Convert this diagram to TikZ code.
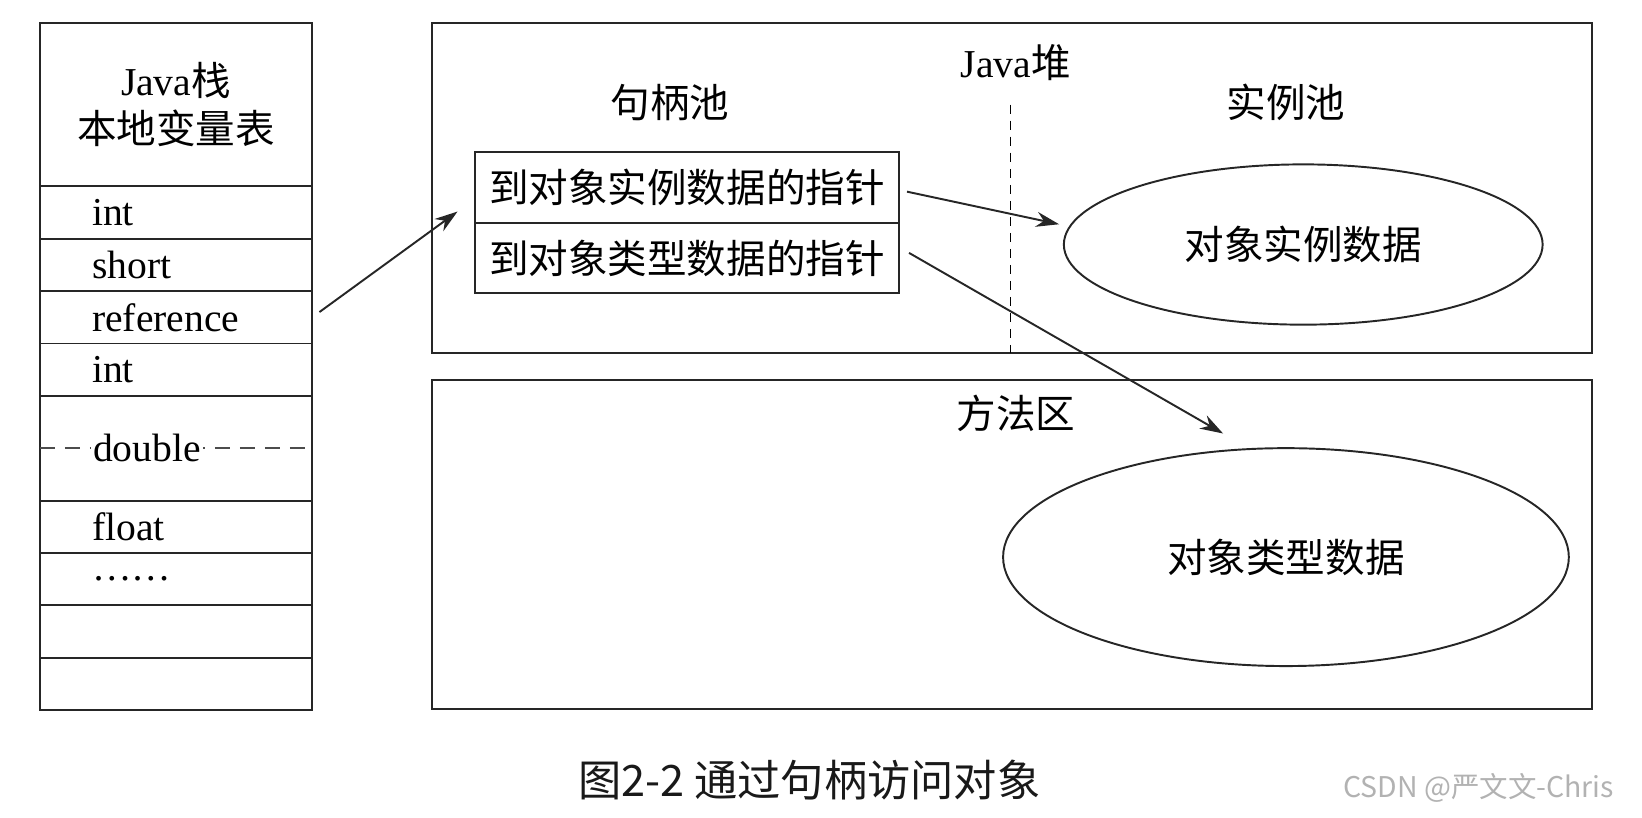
\documentclass[tikz,border=0pt]{standalone}
\usepackage{fontspec}
\setmainfont{Liberation Serif}
\newfontfamily\cjk{Noto Sans CJK SC}
\usetikzlibrary{arrows.meta,shapes.geometric}
\newcommand\bodysize{\fontsize{22.5pt}{27pt}\selectfont}
\newcommand\capsize{\fontsize{24.6pt}{29pt}\selectfont}
\newcommand\marksize{\fontsize{16.2pt}{19pt}\selectfont}

\tikzset{
  box/.style={draw=black!85,line width=1.1pt,inner sep=0pt,outer sep=0pt},
  cell/.style={box,minimum width=5.445cm,minimum height=1.047cm,text width=3.35cm,inner xsep=1.047cm,align=left},
  blob/.style={box,shape=ellipse},
  arr/.style={-{Stealth[length=0.46cm,width=0.3cm]},line width=1.1pt,draw=black!85},
}

\begin{document}
\begin{tikzpicture}[x=0.02094cm,y=-0.02094cm,font=\bodysize]
  \useasboundingbox (0,0) rectangle (1568,781);
  % Java stack
  \node[box,minimum width=5.445cm,minimum height=3.267cm,align=center] (stackhead) at (168,100) {Java{\cjk 栈}\\{\cjk 本地变量表}};
  \node[cell] (int1) at (168,203) {int};
  \node[cell] (short) at (168,253) {short};
  \node[cell] (ref) at (168,303) {reference};
  \node[cell] (int2) at (168,353) {int};
  \node[cell,minimum height=2.094cm] (dbl) at (168,428) {};
  \draw[dashed,dash pattern=on 0.31cm off 0.19cm,line width=0.9pt,black!70] (dbl.west) -- (dbl.east);
  \node[fill=white,inner sep=1pt,anchor=west] (dbltxt) at (87,428) {double};
  \node[cell] (float) at (168,503) {float};
  \node[cell] (dots) at (168,553) {……};
  \node[cell] (empty1) at (168,603) {};
  \node[cell] (empty2) at (168,653) {};
  % heap
  \node[box,minimum width=23.185cm,minimum height=6.597cm] (heap) at (966.5,179.5) {};
  \node (heaplbl) at (970,60) {Java{\cjk 堆}};
  \node (handlelbl) at (640,98) {\cjk 句柄池};
  \node (poollbl) at (1228,98) {\cjk 实例池};
  \draw[dashed,dash pattern=on 0.19cm off 0.13cm,line width=0.9pt] (965,100) -- (965,337);
  \node[box,minimum width=8.461cm,minimum height=1.424cm] (hinst) at (656,179) {\cjk 到对象实例数据的指针};
  \node[box,minimum width=8.461cm,minimum height=1.403cm] (htype) at (656,246.5) {\cjk 到对象类型数据的指针};
  \node[blob,minimum width=9.571cm,minimum height=3.204cm] (einst) at (1244.5,233.5) {\cjk 对象实例数据};
  % method area
  \node[box,minimum width=23.185cm,minimum height=6.576cm] (method) at (966.5,520) {};
  \node (methodlbl) at (970,395) {\cjk 方法区};
  \node[blob,minimum width=11.31cm,minimum height=4.356cm] (etype) at (1228,532) {\cjk 对象类型数据};
  % pointers
  \draw[arr] ([xshift=0.147cm,yshift=0.105cm]ref.east) -- ([xshift=-0.356cm,yshift=-0.482cm]hinst.west);
  \draw[arr] ([xshift=0.168cm,yshift=-0.084cm]hinst.east) -- ([xshift=-0.251cm]einst.175);
  \draw[arr] ([xshift=0.209cm,yshift=0.105cm]htype.east) -- ([xshift=-1.257cm,yshift=0.293cm]etype.north);
  % caption
  \node[font=\capsize\cjk,text=black!90] (caption) at (773,745) {图2-2 通过句柄访问对象};
  \node[font=\marksize\cjk,text=black!30] (mark) at (1412,752) {CSDN @严文文-Chris};
\end{tikzpicture}
\end{document}
